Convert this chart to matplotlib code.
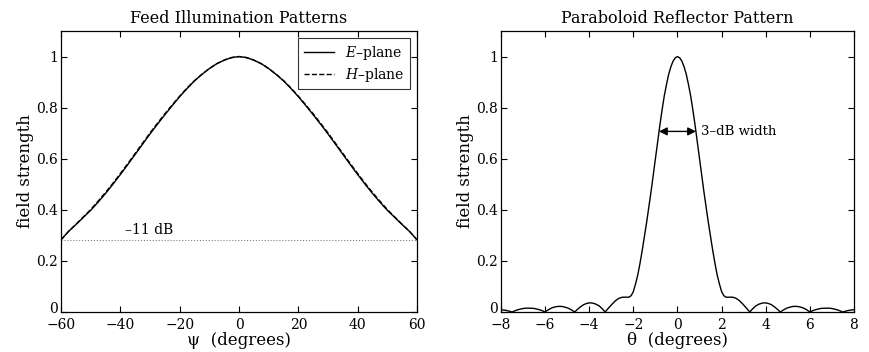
import numpy as np
import matplotlib
matplotlib.use('Agg')
import matplotlib.pyplot as plt
import matplotlib.transforms as mtransforms

# feed illumination patterns (every 2.5 degrees)
psi = [-60, -57.5, -55, -52.5, -50, -47.5, -45, -42.5, -40, -37.5, -35, -32.5, -30,
       -27.5, -25, -22.5, -20, -17.5, -15, -12.5, -10, -7.5, -5, -2.5, 0,
       2.5, 5, 7.5, 10, 12.5, 15, 17.5, 20, 22.5, 25, 27.5, 30,
       32.5, 35, 37.5, 40, 42.5, 45, 47.5, 50, 52.5, 55, 57.5, 60]
e_plane = [0.283, 0.315, 0.342, 0.37, 0.398, 0.43, 0.464, 0.5, 0.538, 0.577, 0.617, 0.657, 0.697,
           0.735, 0.772, 0.808, 0.843, 0.875, 0.905, 0.93, 0.953, 0.972, 0.986, 0.996, 1.0,
           0.996, 0.986, 0.972, 0.953, 0.93, 0.905, 0.875, 0.843, 0.808, 0.772, 0.735, 0.697,
           0.657, 0.617, 0.577, 0.538, 0.5, 0.464, 0.43, 0.398, 0.37, 0.342, 0.315, 0.283]
h_plane = [0.282, 0.315, 0.343, 0.372, 0.401, 0.434, 0.468, 0.504, 0.542, 0.581, 0.621, 0.661, 0.701,
           0.739, 0.776, 0.811, 0.845, 0.877, 0.906, 0.931, 0.953, 0.972, 0.986, 0.996, 1.0,
           0.996, 0.986, 0.972, 0.953, 0.931, 0.906, 0.877, 0.845, 0.811, 0.776, 0.739, 0.701,
           0.661, 0.621, 0.581, 0.542, 0.504, 0.468, 0.434, 0.401, 0.372, 0.343, 0.315, 0.282]
edge_level = 0.2818  # -11 dB

# paraboloid reflector pattern
theta = [-8.0, -7.8, -7.65, -7.5, -7.3, -7.1, -6.9, -6.7, -6.5, -6.3, -6.15, -6.01,
         -5.85, -5.7, -5.55, -5.4, -5.25, -5.1, -4.95, -4.8, -4.66,
         -4.55, -4.4, -4.25, -4.1, -3.96, -3.85, -3.7, -3.55, -3.4, -3.28,
         -3.1, -2.95, -2.8, -2.65, -2.5, -2.35, -2.2, -2.1, -2.0,
         -1.9, -1.8, -1.7, -1.6, -1.5, -1.4, -1.3, -1.2, -1.1, -1.0,
         -0.9, -0.8, -0.7, -0.6, -0.5, -0.4, -0.3, -0.2, -0.1, 0.0,
         0.1, 0.2, 0.3, 0.4, 0.5, 0.6, 0.7, 0.8, 0.9,
         1.0, 1.1, 1.2, 1.3, 1.4, 1.5, 1.6, 1.7, 1.8, 1.9,
         2.0, 2.1, 2.2, 2.35, 2.5, 2.65, 2.8, 2.95, 3.1,
         3.28, 3.4, 3.55, 3.7, 3.85, 3.96, 4.1, 4.25, 4.4, 4.55,
         4.66, 4.8, 4.95, 5.1, 5.25, 5.4, 5.55, 5.7, 5.85,
         6.01, 6.15, 6.3, 6.5, 6.7, 6.9, 7.1, 7.3, 7.5, 7.65, 7.8, 8.0]
gain = [0.009, 0.007, 0.004, 0.0, 0.007, 0.012, 0.015, 0.015, 0.014, 0.01, 0.006, 0.0,
        0.009, 0.016, 0.02, 0.022, 0.022, 0.019, 0.015, 0.008, 0.0,
        0.009, 0.02, 0.029, 0.034, 0.036, 0.035, 0.031, 0.024, 0.012, 0.0,
        0.018, 0.032, 0.045, 0.054, 0.058, 0.058, 0.058, 0.064, 0.08,
        0.11, 0.145, 0.19, 0.24, 0.295, 0.35, 0.41, 0.47, 0.535, 0.60,
        0.665, 0.73, 0.79, 0.845, 0.89, 0.93, 0.96, 0.982, 0.995, 1.0,
        0.995, 0.982, 0.96, 0.93, 0.89, 0.845, 0.79, 0.73, 0.665,
        0.60, 0.535, 0.47, 0.41, 0.35, 0.295, 0.24, 0.19, 0.145, 0.11,
        0.08, 0.064, 0.058, 0.058, 0.058, 0.054, 0.045, 0.032, 0.018,
        0.0, 0.012, 0.024, 0.031, 0.035, 0.036, 0.034, 0.029, 0.02, 0.009,
        0.0, 0.008, 0.015, 0.019, 0.022, 0.022, 0.02, 0.016, 0.009,
        0.0, 0.006, 0.01, 0.014, 0.015, 0.015, 0.012, 0.007, 0.0, 0.004, 0.007, 0.009]
half_width = 0.84  # 3-dB half width in degrees

plt.rcParams['font.family'] = 'DejaVu Serif'
plt.rcParams['mathtext.fontset'] = 'dejavuserif'
plt.rcParams['font.size'] = 10

fig = plt.figure(figsize=(8.69, 3.52), dpi=100)
ax1 = fig.add_axes([0.0702, 0.1136, 0.4097, 0.7983])
ax2 = fig.add_axes([0.5765, 0.1136, 0.4062, 0.7983])

# left plot
ax1.plot(psi, e_plane, 'k-', lw=1, label='$E$\u2013plane')
ax1.plot(psi, h_plane, 'k--', lw=1, label='$H$\u2013plane')
ax1.axhline(edge_level, color='gray', ls=':', lw=0.8)
ax1.text(-38.5, edge_level + 0.012, '\u201311 dB', fontsize=10, va='bottom', ha='left')
ax1.set_xlim(-60, 60)
ax1.set_ylim(0, 1.1)
ax1.set_xticks([-60, -40, -20, 0, 20, 40, 60])
ax1.set_title('Feed Illumination Patterns', fontsize=11.5)
ax1.set_xlabel('\u03c8  (degrees)', fontsize=12, labelpad=0)
ax1.set_ylabel('field strength', fontsize=12, labelpad=2)
leg = ax1.legend(loc='upper right', fancybox=False, edgecolor='k', fontsize=10,
                 handlelength=2.2, borderpad=0.4, labelspacing=0.3)
leg.get_frame().set_linewidth(0.8)

# right plot
ax2.plot(theta, gain, 'k-', lw=1)
ax2.annotate('', xy=(-half_width, 0.707), xytext=(half_width, 0.707),
             arrowprops=dict(arrowstyle='<|-|>', color='k', lw=1, mutation_scale=12,
                             shrinkA=0, shrinkB=0))
ax2.text(1.05, 0.707, '3\u2013dB width', fontsize=9.5, va='center', ha='left')
ax2.set_xlim(-8, 8)
ax2.set_ylim(0, 1.1)
ax2.set_xticks(np.arange(-8, 9, 2))
ax2.set_title('Paraboloid Reflector Pattern', fontsize=11.5)
ax2.set_xlabel('\u03b8  (degrees)', fontsize=12, labelpad=0)
ax2.set_ylabel('field strength', fontsize=12, labelpad=2)

for ax in (ax1, ax2):
    ax.set_yticks([0, 0.2, 0.4, 0.6, 0.8, 1])
    ax.set_yticklabels(['0', '0.2', '0.4', '0.6', '0.8', '1'])
    ax.tick_params(direction='in', top=True, right=True, length=4, width=0.8, pad=2)
    ax.tick_params(axis='x', pad=4)
    for s in ax.spines.values():
        s.set_linewidth(0.9)
    # lift the "0" label a little so it clears the x tick labels
    zero_lab = ax.get_yticklabels()[0]
    zero_lab.set_transform(zero_lab.get_transform() +
                           mtransforms.ScaledTranslation(0, 3 / 72, fig.dpi_scale_trans))

fig.savefig('out.png', dpi=100)
